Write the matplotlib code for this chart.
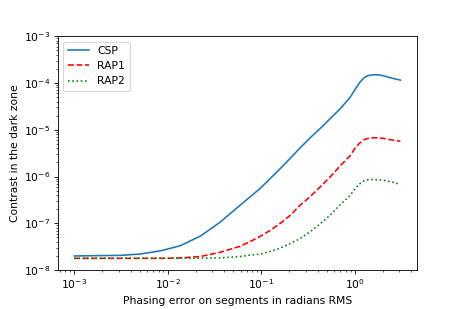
import matplotlib
matplotlib.use("Agg")
import matplotlib.pyplot as plt

# values (phasing error in rad RMS, contrast)
x_csp = [0.001, 0.0019, 0.0031, 0.00508, 0.00832, 0.0136, 0.0223, 0.0364, 0.0596,
         0.0762, 0.0975, 0.125, 0.160, 0.204, 0.251, 0.334, 0.428, 0.547, 0.700,
         0.895, 1.01, 1.12, 1.24, 1.35, 1.47, 1.66, 1.87, 2.14, 2.40, 2.69, 3.07]
y_csp = [2.0e-8, 2.04e-8, 2.06e-8, 2.2e-8, 2.57e-8, 3.31e-8, 5.31e-8, 1.06e-7, 2.45e-7,
         3.69e-7, 5.57e-7, 9.12e-7, 1.48e-6, 2.45e-6, 3.8e-6, 6.76e-6, 1.07e-5, 1.74e-5,
         2.82e-5, 5.0e-5, 7.4e-5, 1.0e-4, 1.26e-4, 1.41e-4, 1.47e-4, 1.5e-4, 1.47e-4,
         1.38e-4, 1.29e-4, 1.22e-4, 1.15e-4]

x_rap1 = [0.001, 0.01, 0.0136, 0.0223, 0.0364, 0.0596, 0.0762, 0.0975, 0.125, 0.160,
          0.204, 0.261, 0.334, 0.428, 0.547, 0.700, 0.895, 1.01, 1.12, 1.24, 1.35,
          1.59, 2.03, 2.51, 3.07]
y_rap1 = [1.78e-8, 1.78e-8, 1.82e-8, 1.95e-8, 2.4e-8, 3.24e-8, 4.07e-8, 5.25e-8, 7.08e-8,
          1.0e-7, 1.48e-7, 2.45e-7, 3.72e-7, 6.03e-7, 9.86e-7, 1.7e-6, 2.82e-6, 4.07e-6,
          5.13e-6, 6.0e-6, 6.46e-6, 6.76e-6, 6.52e-6, 6.03e-6, 5.7e-6]

x_rap2 = [0.001, 0.0223, 0.0364, 0.0596, 0.0762, 0.0975, 0.125, 0.160, 0.204, 0.251,
          0.334, 0.428, 0.547, 0.700, 0.895, 1.01, 1.12, 1.24, 1.35, 1.59, 2.0, 2.51, 3.07]
y_rap2 = [1.78e-8, 1.8e-8, 1.82e-8, 1.95e-8, 2.09e-8, 2.2e-8, 2.5e-8, 2.95e-8, 3.7e-8,
          4.52e-8, 6.6e-8, 9.77e-8, 1.5e-7, 2.51e-7, 3.98e-7, 5.57e-7, 6.92e-7, 7.98e-7,
          8.51e-7, 8.67e-7, 8.32e-7, 7.59e-7, 6.78e-7]

fig = plt.figure(figsize=(463 / 77, 309 / 77), dpi=77)
ax = fig.add_subplot(111)
fig.subplots_adjust(left=0.125, right=0.9, top=0.883, bottom=0.126)

ax.plot(x_csp, y_csp, '-', color='tab:blue', label='CSP')
ax.plot(x_rap1, y_rap1, 'r--', label='RAP1')
ax.plot(x_rap2, y_rap2, 'g:', label='RAP2')

ax.set_xscale('log')
ax.set_yscale('log')
ax.set_ylim(1e-8, 1e-3)
ax.set_xlabel('Phasing error on segments in radians RMS')
ax.set_ylabel('Contrast in the dark zone')
ax.legend(loc='upper left')

fig.savefig('out.png', dpi=77)
